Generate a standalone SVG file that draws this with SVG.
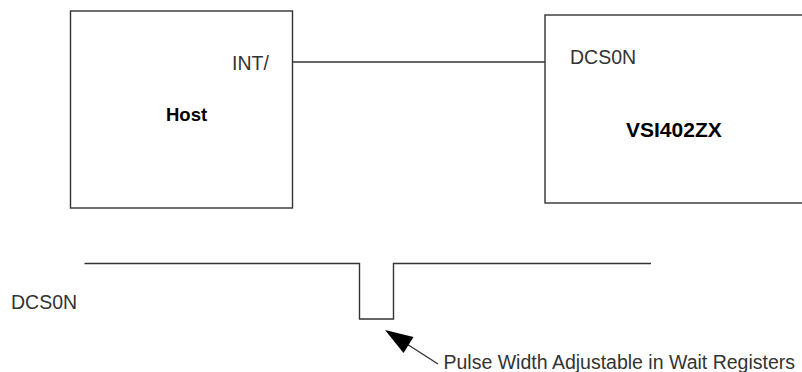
<svg xmlns="http://www.w3.org/2000/svg" width="802" height="372" viewBox="0 0 802 372">
<defs>
<style>
.box{fill:#fff;stroke:#333;stroke-width:1.4}
.wire{fill:none;stroke:#333;stroke-width:1.4}
.lbl{font-family:"Liberation Sans",Arial,sans-serif;font-size:19.5px;fill:#333}
.bold{font-family:"Liberation Sans",Arial,sans-serif;font-weight:bold;fill:#000}
</style>
<marker id="ah" viewBox="0 0 10 10" refX="9" refY="5" markerWidth="10" markerHeight="10" markerUnits="userSpaceOnUse" orient="auto">
<path d="M0,0 L10,5 L0,10 z" fill="#000"/>
</marker>
</defs>
<rect width="802" height="372" fill="#fff"/>
<g id="host">
<rect class="box" x="70.5" y="11" width="222" height="197"/>
<text class="lbl" x="232" y="70">INT/</text>
<text class="bold" x="166" y="121" font-size="18.5">Host</text>
</g>
<g id="vsi402zx">
<rect class="box" x="545" y="15" width="262" height="188"/>
<text class="lbl" x="570" y="63.5">DCS0N</text>
<text class="bold" x="626" y="136.5" font-size="21">VSI402ZX</text>
</g>
<g id="connectors">
<line class="wire" x1="292.5" y1="62" x2="545" y2="62"/>
<polyline class="wire" points="84.5,263.5 359.5,263.5 359.5,319 393.5,319 393.5,263.5 651,263.5"/>
<line x1="438" y1="364" x2="396" y2="337" stroke="#333" stroke-width="1.4"/>
<polygon points="385,330 413.5,337 403.5,353" fill="#000"/>
</g>
<g id="labels">
<text class="lbl" x="11" y="308.5">DCS0N</text>
<text class="lbl" x="443.5" y="368.5">Pulse Width Adjustable in Wait Registers</text>
</g>
</svg>
